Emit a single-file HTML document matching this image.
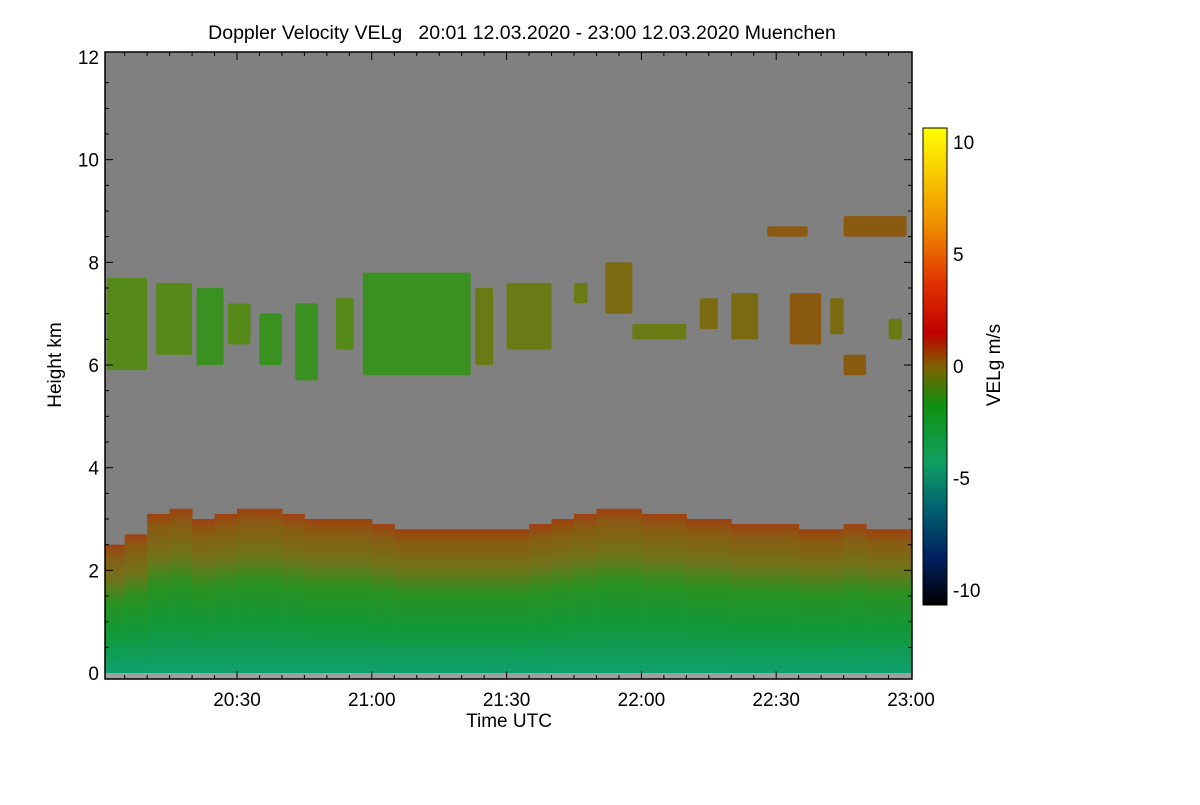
<!DOCTYPE html>
<html><head><meta charset="utf-8"><style>
body{margin:0;background:#fff;font-family:"Liberation Sans",sans-serif}
svg text{font-family:"Liberation Sans",sans-serif;fill:#000}
</style></head><body>
<svg id="c" width="1200" height="800" xmlns="http://www.w3.org/2000/svg">
<defs>
<linearGradient id="low" x1="0" y1="1" x2="0" y2="0">
<stop offset="0" stop-color="#10a070"/><stop offset="0.3" stop-color="#109838"/><stop offset="0.55" stop-color="#2a9020"/><stop offset="0.72" stop-color="#70741a"/><stop offset="0.92" stop-color="#8a5a12"/><stop offset="1" stop-color="#a04010"/>
</linearGradient>
<linearGradient id="cb" x1="0" y1="0" x2="0" y2="1">
<stop offset="0" stop-color="#ffff00"/><stop offset="0.2" stop-color="#f09000"/><stop offset="0.33" stop-color="#e03000"/><stop offset="0.43" stop-color="#c00000"/><stop offset="0.5" stop-color="#806000"/><stop offset="0.58" stop-color="#109010"/><stop offset="0.7" stop-color="#10a060"/><stop offset="0.8" stop-color="#006070"/><stop offset="0.9" stop-color="#002060"/><stop offset="1" stop-color="#000000"/>
</linearGradient>
</defs>
<rect x="105" y="52" width="807" height="627" fill="#808080"/>
<rect x="105" y="673" width="807" height="6" fill="#a0a0a0"/>
<g id="marks"></g>
<rect x="105" y="52" width="807" height="627" fill="none" stroke="#000" stroke-width="1.5"/>
<g id="axes"></g>
<text x="522" y="39" font-size="19.5" text-anchor="middle" xml:space="preserve">Doppler Velocity VELg   20:01 12.03.2020 - 23:00 12.03.2020 Muenchen</text>
<text transform="translate(61,365) rotate(-90)" font-size="19" text-anchor="middle">Height km</text>
<text x="509" y="727" font-size="19" text-anchor="middle">Time UTC</text>
<rect x="923" y="128" width="24" height="477" fill="url(#cb)" stroke="#000" stroke-width="1"/>
<text transform="translate(1000,365) rotate(-90)" font-size="19" text-anchor="middle">VELg m/s</text>
</svg>
<script>
const ns="http://www.w3.org/2000/svg";
// low layer: 5-min bins starting 20:00, top height (km)
const lowTimes=[0,5,10,15,20,25,30,35,40,45,50,55,60,65,70,75,80,85,90,95,100,105,110,115,120,125,130,135,140,145,150,155,160,165,170,175];
const lowTops=[2.5,2.7,3.1,3.2,3.0,3.1,3.2,3.2,3.1,3.0,3.0,3.0,2.9,2.8,2.8,2.8,2.8,2.8,2.8,2.9,3.0,3.1,3.2,3.2,3.1,3.1,3.0,3.0,2.9,2.9,2.9,2.8,2.8,2.9,2.8,2.8];
// upper cloud patches: start min, end min, base km, top km, velocity class
const upStart=[1,12,21,28,35,43,52,58,83,90,105,112,118,133,140,153,162,165,148,165,175];
const upEnd=[10,20,27,33,40,48,56,82,87,100,108,118,130,137,146,160,165,170,157,179,178];
const upBase=[5.9,6.2,6.0,6.4,6.0,5.7,6.3,5.8,6.0,6.3,7.2,7.0,6.5,6.7,6.5,6.4,6.6,5.8,8.5,8.5,6.5];
const upTop=[7.7,7.6,7.5,7.2,7.0,7.2,7.3,7.8,7.5,7.6,7.6,8.0,6.8,7.3,7.4,7.4,7.3,6.2,8.7,8.9,6.9];
const upVel=[-0.5,-0.5,-1,-0.5,-1.5,-1,-0.5,-1,0,-0.3,0,0.5,0,0.3,0.5,0.8,0.3,0.8,0.8,0.8,0];
const xTicks=[30,60,90,120,150,180];
const xLabels=["20:30","21:00","21:30","22:00","22:30","23:00"];
const yTicks=[0,2,4,6,8,10,12];
const cbTicks=[10,5,0,-5,-10];

const X=m=>102.2+m*674/150;
const Y=h=>673-h*(616/12);
const CY=v=>142+(10-v)*(448/20);
function velColor(v){return v>0.6?"#8a5a10":v>0.1?"#7a6a10":v>-0.4?"#6a7a14":v>-0.8?"#558a18":"#3a9020";}
const g=document.getElementById("marks");
lowTimes.forEach((t,i)=>{
 const r=document.createElementNS(ns,"rect");
 
 
 const x0=Math.max(X(t),105),x1=Math.min(X(t+5),912);
 r.setAttribute("x",x0);r.setAttribute("width",x1-x0+0.5);
 r.setAttribute("y",Y(lowTops[i]));r.setAttribute("height",Y(0)-Y(lowTops[i]));
 r.setAttribute("fill","url(#low)");
 g.appendChild(r);
});
upStart.forEach((s,i)=>{
 const e=document.createElementNS(ns,"rect");
 
 
 e.setAttribute("x",X(s));e.setAttribute("width",X(upEnd[i])-X(s));
 e.setAttribute("y",Y(upTop[i]));e.setAttribute("height",Y(upBase[i])-Y(upTop[i]));
 e.setAttribute("rx",2);
 e.setAttribute("fill",velColor(upVel[i]));
 g.appendChild(e);
});
const a=document.getElementById("axes");
function line(x1,y1,x2,y2){const l=document.createElementNS(ns,"line");l.setAttribute("x1",x1);l.setAttribute("y1",y1);l.setAttribute("x2",x2);l.setAttribute("y2",y2);l.setAttribute("stroke","#000");l.setAttribute("stroke-width","1");a.appendChild(l);return l;}
function text(x,y,s,anchor){const t=document.createElementNS(ns,"text");t.setAttribute("x",x);t.setAttribute("y",y);t.setAttribute("font-size","19");t.setAttribute("text-anchor",anchor);t.textContent=s;a.appendChild(t);return t;}
for(let m=5;m<180;m+=5){if(X(m)<106)continue;const l=line(X(m),679,X(m),m%30==0?671:675);const l2=line(X(m),52,X(m),m%30==0?60:56);}
xTicks.forEach((m,i)=>{const t=text(X(m),706,xLabels[i],"middle");});
for(let h=0.5;h<12;h+=0.5){const l=line(105,Y(h),h%2==0?113:109,Y(h));const l2=line(912,Y(h),h%2==0?904:908,Y(h));}
yTicks.forEach(h=>{const t=text(99,Y(h)+7,String(h),"end");});
cbTicks.forEach(v=>{const l=line(941,CY(v),947,CY(v));const t=text(953,CY(v)+7,String(v),"start");});
</script>
</body></html>
